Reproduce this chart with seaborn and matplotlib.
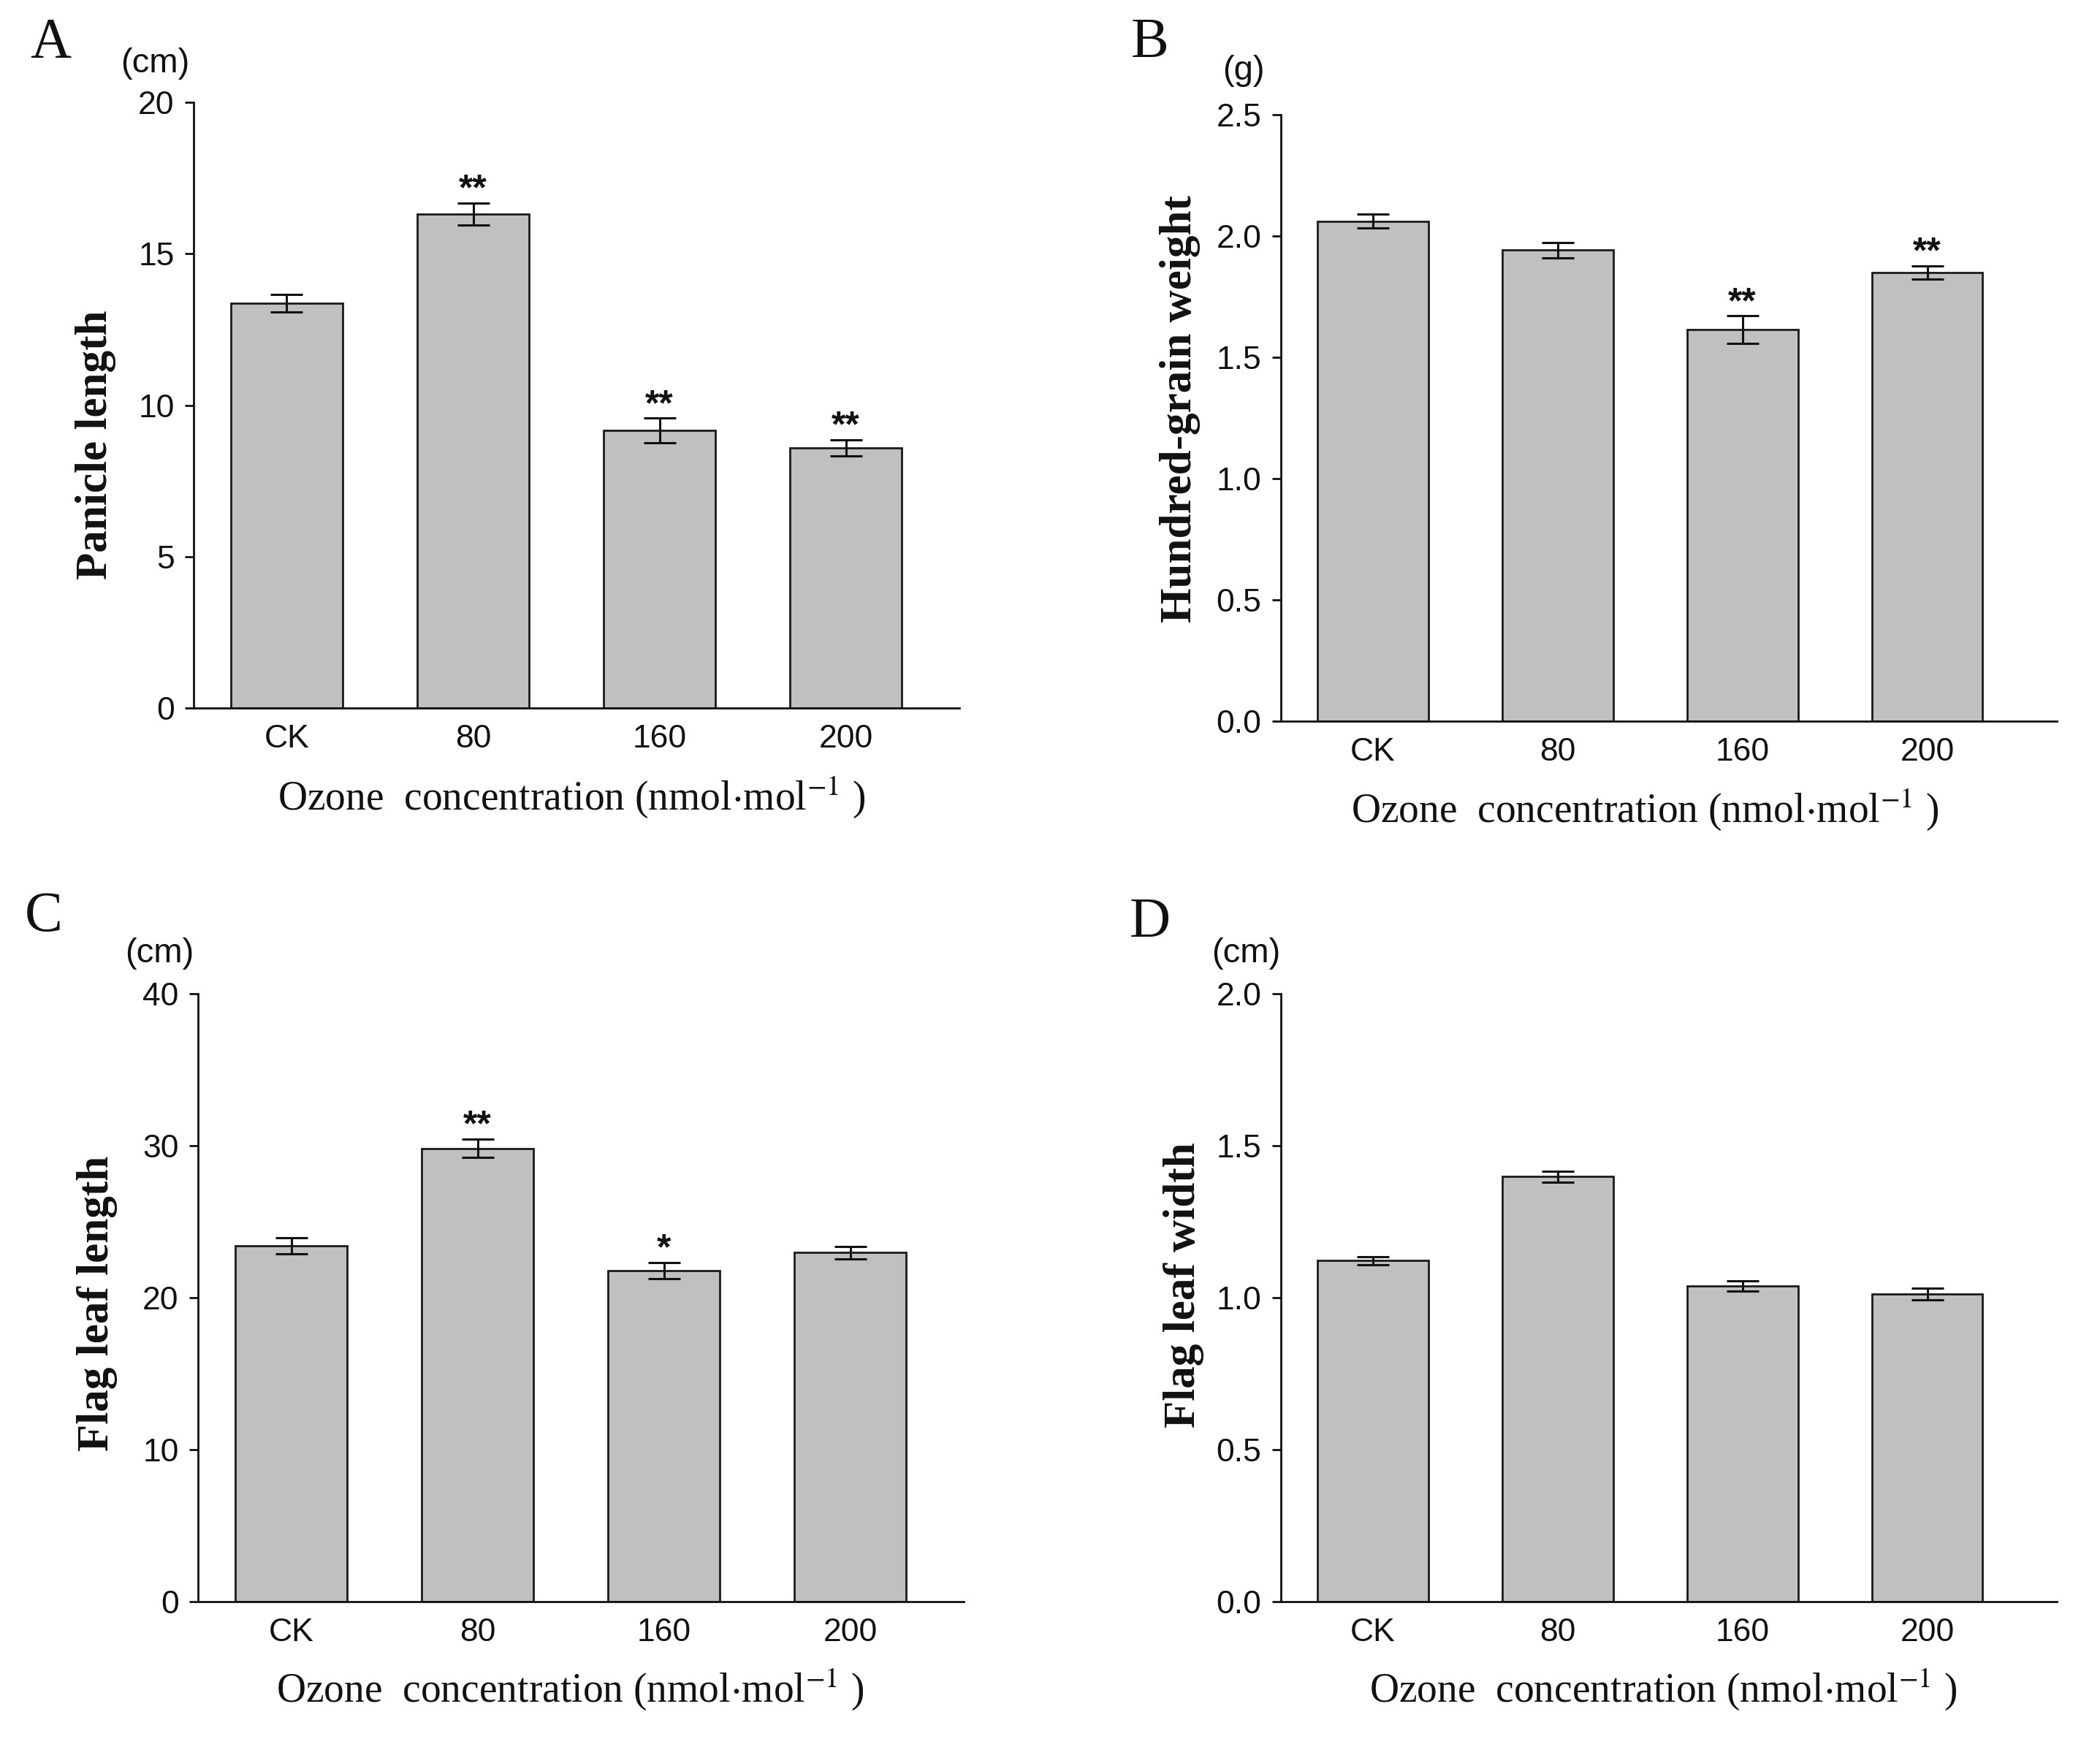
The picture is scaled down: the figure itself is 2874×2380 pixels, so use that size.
import matplotlib
matplotlib.use("Agg")
import matplotlib.pyplot as plt
import seaborn as sns
import pandas as pd

sns.set_theme(style="white")
plt.rcParams['font.family'] = ['Liberation Sans', 'DejaVu Sans']
plt.rcParams['mathtext.fontset'] = 'stix'

categories = ["CK", "80", "160", "200"]

panicle_mean = [13.37, 16.32, 9.16, 8.59]
panicle_err = [0.30, 0.36, 0.41, 0.27]
panicle_sig = ["", "**", "**", "**"]

grain_mean = [2.062, 1.942, 1.614, 1.850]
grain_err = [0.029, 0.032, 0.057, 0.028]
grain_sig = ["", "", "**", "**"]

flaglen_mean = [23.39, 29.81, 21.78, 22.95]
flaglen_err = [0.53, 0.62, 0.53, 0.40]
flaglen_sig = ["", "**", "*", ""]

flagwid_mean = [1.121, 1.397, 1.038, 1.011]
flagwid_err = [0.013, 0.017, 0.017, 0.020]
flagwid_sig = ["", "", "", ""]

panels = [
    dict(letter="A", ylabel="Panicle length", unit="(cm)", mean=panicle_mean, err=panicle_err, sig=panicle_sig,
         ylim=(0, 20), yticks=[0, 5, 10, 15, 20], fmt="{:.0f}",
         rect=[0.0922, 0.593, 0.3647, 0.348], xlim=(-0.5, 3.61),
         unitpos=(-0.05, 1.065), ylabpos=(-0.128, 0.435), xlabpos=(0.494, -0.147), letterpos=(0.024, 0.975)),
    dict(letter="B", ylabel="Hundred-grain weight", unit="(g)", mean=grain_mean, err=grain_err, sig=grain_sig,
         ylim=(0, 2.5), yticks=[0, 0.5, 1.0, 1.5, 2.0, 2.5], fmt="{:.1f}",
         rect=[0.6098, 0.5854, 0.3695, 0.3485], xlim=(-0.5, 3.7),
         unitpos=(-0.048, 1.073), ylabpos=(-0.13, 0.515), xlabpos=(0.47, -0.146), letterpos=(0.5476, 0.975)),
    dict(letter="C", ylabel="Flag leaf length", unit="(cm)", mean=flaglen_mean, err=flaglen_err, sig=flaglen_sig,
         ylim=(0, 40), yticks=[0, 10, 20, 30, 40], fmt="{:.0f}",
         rect=[0.0943, 0.0792, 0.3647, 0.3495], xlim=(-0.5, 3.61),
         unitpos=(-0.05, 1.066), ylabpos=(-0.132, 0.49), xlabpos=(0.486, -0.145), letterpos=(0.0206, 0.4725)),
    dict(letter="D", ylabel="Flag leaf width", unit="(cm)", mean=flagwid_mean, err=flagwid_err, sig=flagwid_sig,
         ylim=(0, 2.0), yticks=[0, 0.5, 1.0, 1.5, 2.0], fmt="{:.1f}",
         rect=[0.6098, 0.0792, 0.3695, 0.3495], xlim=(-0.5, 3.7),
         unitpos=(-0.045, 1.066), ylabpos=(-0.125, 0.52), xlabpos=(0.493, -0.145), letterpos=(0.5476, 0.4694)),
]

fig = plt.figure(figsize=(14.37, 11.9), dpi=200)
serif = ['Liberation Serif', 'DejaVu Serif']
xlabel_text = r"Ozone  concentration (nmol$\cdot$mol$^{-1}$ )"

for p in panels:
    ax = fig.add_axes(p["rect"])
    df = pd.DataFrame({"cat": categories, "val": p["mean"]})
    sns.barplot(data=df, x="cat", y="val", order=categories, color="#c0c0c0",
                saturation=1, width=0.6, edgecolor="#1a1a1a", linewidth=1.0,
                errorbar=None, ax=ax)
    xs = list(range(len(categories)))
    ax.errorbar(xs, p["mean"], yerr=p["err"], fmt="none", ecolor="#111111",
                elinewidth=1.1, capsize=8, capthick=1.1)
    for x, m, e, s in zip(xs, p["mean"], p["err"], p["sig"]):
        if s:
            ax.annotate(s, xy=(x, m + e), xytext=(0, -2), textcoords="offset points",
                        ha="center", va="bottom", fontsize=18, fontweight="bold", color="#111111")
    ax.set_ylim(*p["ylim"])
    ax.set_xlim(*p["xlim"])
    ax.set_yticks(p["yticks"])
    ax.set_yticklabels([p["fmt"].format(v) for v in p["yticks"]])
    for side in ["top", "right"]:
        ax.spines[side].set_visible(False)
    for side in ["left", "bottom"]:
        ax.spines[side].set_color("#111111")
        ax.spines[side].set_linewidth(1.0)
    ax.tick_params(axis="y", which="both", direction="out", length=4.5, width=1.0,
                   color="#111111", labelsize=16, pad=5, left=True)
    ax.tick_params(axis="x", length=0, labelsize=16, pad=8)
    ax.set_xlabel("")
    ax.set_ylabel("")
    for lab in ax.get_xticklabels() + ax.get_yticklabels():
        lab.set_color("#111111")
    ax.text(*p["unitpos"], p["unit"], transform=ax.transAxes, ha="center", va="center",
            fontsize=17, color="#111111")
    ax.text(*p["ylabpos"], p["ylabel"], transform=ax.transAxes, ha="center", va="center",
            rotation=90, fontsize=22, fontweight="bold", family=serif, color="#111111")
    ax.text(*p["xlabpos"], xlabel_text, transform=ax.transAxes, ha="center", va="center",
            fontsize=20, family=serif, color="#111111")
    fig.text(*p["letterpos"], p["letter"], ha="center", va="center", fontsize=28,
             family=serif, color="#111111")

fig.savefig("out.png", dpi=200, facecolor="white")
